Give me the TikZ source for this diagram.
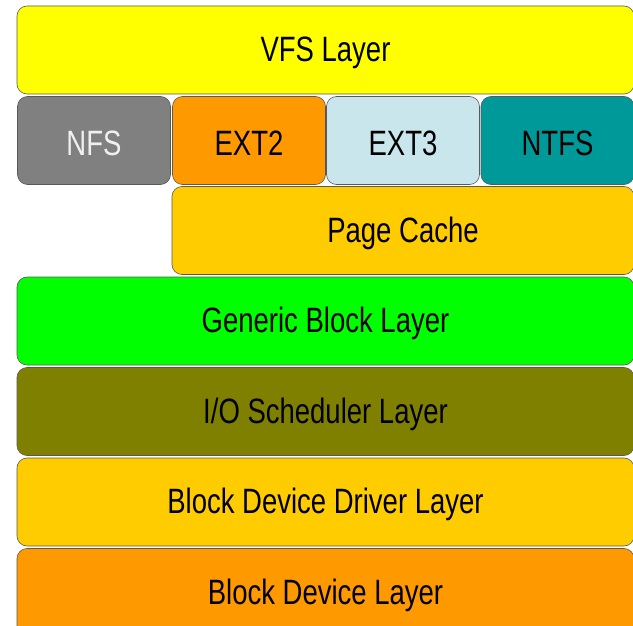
\documentclass[tikz,border=0pt]{standalone}
\usepackage{fontspec}
\setmainfont{Liberation Sans}
\usepackage{xcolor}
\usepackage{tikz}

\definecolor{vfsyellow}{HTML}{FFFF00}
\definecolor{nfsgray}{HTML}{808080}
\definecolor{extorange}{HTML}{FF9900}
\definecolor{extblue}{HTML}{C8E6EC}
\definecolor{ntfsteal}{HTML}{009999}
\definecolor{cachegold}{HTML}{FFCC00}
\definecolor{blockgreen}{HTML}{00FF00}
\definecolor{ioolive}{HTML}{808000}

\newcommand{\layertext}[1]{\raisebox{-2.5pt}[\height][\depth]{\scalebox{1}[1.28]{#1}}}

\begin{document}
\begin{tikzpicture}[
  x=1pt, y=-1pt,
  layer/.style={rectangle, rounded corners=10pt, draw=black!65, line width=0.6pt,
    minimum height=88pt, inner sep=0pt, text=black,
    font=\fontsize{27.5}{30}\selectfont},
  full/.style={layer, minimum width=617pt},
  fs/.style={layer, minimum width=153pt}
]
\clip (0,0) rectangle (633,626);

% top of the stack
\node[full, fill=vfsyellow] (vfs) at (325.5,50) {\layertext{VFS Layer}};

% file systems
\node[fs, fill=nfsgray, text=white!94!black] (nfs) at (94,140.5) {\layertext{NFS}};
\node[fs, fill=extorange] (ext2) at (249,140.5) {\layertext{EXT2}};
\node[fs, fill=extblue] (ext3) at (403,140.5) {\layertext{EXT3}};
\node[fs, fill=ntfsteal] (ntfs) at (557.5,140.5) {\layertext{NTFS}};

\node[layer, fill=cachegold, minimum width=462pt] (cache) at (403,230.5) {\layertext{Page Cache}};

% block layers
\node[full, fill=blockgreen] (generic) at (325.5,321) {\layertext{Generic Block Layer}};
\node[full, fill=ioolive] (iosched) at (325.5,411.5) {\layertext{I/O Scheduler Layer}};
\node[full, fill=cachegold] (driver) at (325.5,502) {\layertext{Block Device Driver Layer}};
\node[full, fill=extorange] (device) at (325.5,592.5) {\layertext{Block Device Layer}};

\end{tikzpicture}
\end{document}
